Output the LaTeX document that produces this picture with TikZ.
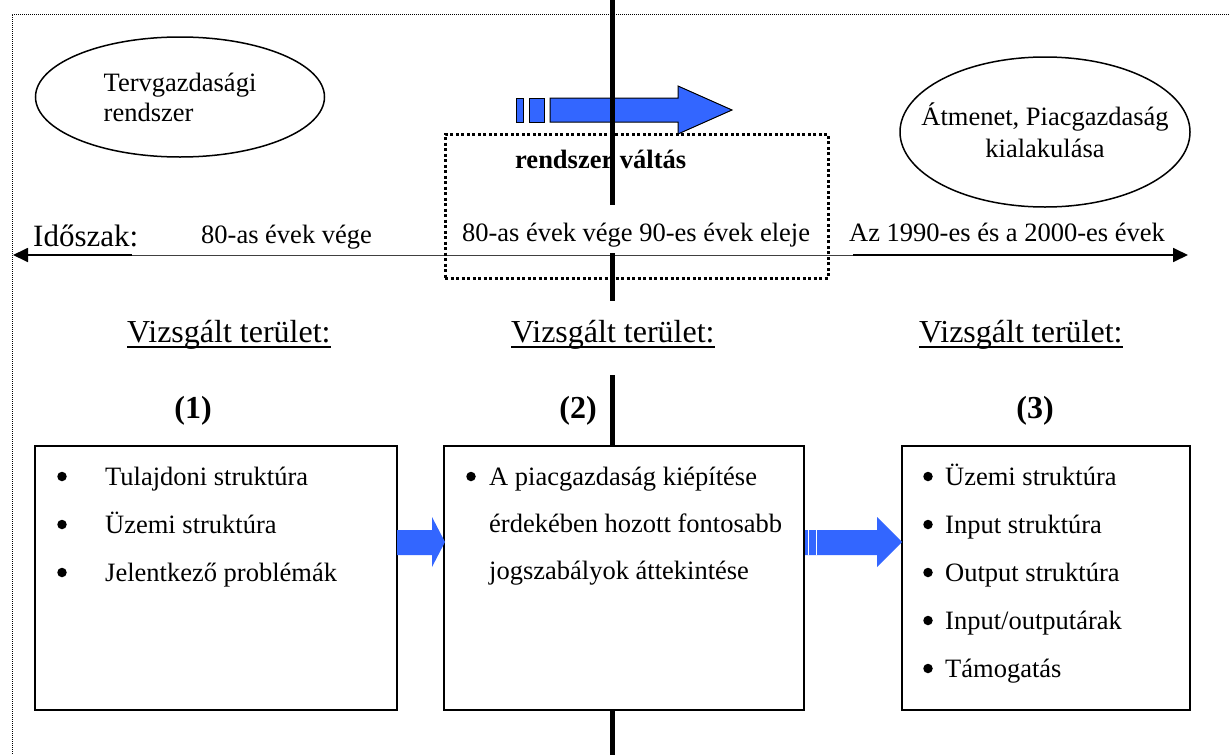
\documentclass[tikz,border=0pt]{standalone}
\usepackage{fontspec}
\setmainfont{Liberation Serif}
\usetikzlibrary{shapes.geometric,arrows.meta}
\definecolor{arrblue}{RGB}{51,102,255}
\tikzset{
  txt/.style={font=\fontsize{26.5}{30}\selectfont, inner sep=0pt},
  txtb/.style={font=\fontsize{26.5}{30}\selectfont\bfseries, inner sep=0pt},
  big/.style={font=\fontsize{32}{36}\selectfont, inner sep=0pt},
  bigb/.style={font=\fontsize{32}{36}\selectfont\bfseries, inner sep=0pt},
  oval/.style={ellipse, draw, line width=1.5pt, inner sep=0pt},
  infobox/.style={draw, line width=1.8pt, fill=white, minimum height=264pt, inner sep=0pt},
  blockarrow/.style={fill=arrblue},
  outlinedblue/.style={draw=black, fill=arrblue, line width=1pt},
  vizs/.style={big, fill=white, text height=41pt, text depth=33pt, anchor=base west},
  uline/.style={line width=1.5pt},
  tip/.style={line width=1.8pt, -{Triangle[length=15pt,width=14pt]}},
  bul/.style={circle, fill=black, inner sep=0pt, minimum size=9.5pt},
  item/.style={txt, anchor=base west},
}
\begin{document}
\begin{tikzpicture}[x=1pt,y=-1pt]
\useasboundingbox[fill=white] (0,0) rectangle (1229,755);
% outer dotted frame
\draw[line width=1pt, dash pattern=on 1pt off 1pt] (1229,14) -- (12,14) -- (12,755);

% ellipses
\node[oval, minimum width=289pt, minimum height=120pt] (e1) at (180,97) {};
\node[txt, align=left] (e1t) at (e1.center) {Tervgazdasági\\rendszer};
\node[oval, minimum width=290pt, minimum height=150pt] (e2) at (1045,132) {};
\node[txt, align=center] (e2t) at ([yshift=2pt]e2.center) {Átmenet, Piacgazdaság\\[2pt]kialakulása};

% top blue arrow
\draw[outlinedblue] (516,98) rectangle (523,122);
\draw[outlinedblue] (529,98) rectangle (544,122);
\draw[outlinedblue] (550,98) -- (678,98) -- (678,86) -- (732,110) -- (678,134) -- (678,122) -- (550,122) -- cycle;

\node[txtb, anchor=base west] (rv) at (515,168) {rendszer váltás};

% timeline
\coordinate (tl) at (13,255);
\coordinate (tlm) at (132,255);
\coordinate (trm) at (853,255);
\coordinate (tr) at (1188,255);
\draw[line width=0.8pt, black!75] (tlm) -- (trm);
\draw[tip] (tlm) -- (tl);
\draw[tip] (trm) -- (tr);

\node[font=\fontsize{31}{34}\selectfont, inner sep=0pt, anchor=base west] (ido) at (33,246) {Időszak:};
\node[txt, anchor=base west] (per1) at (201,243) {80-as évek vége};
\node[txt, anchor=base west] (per3) at (849,241) {Az 1990-es és a 2000-es évek};

% thick vertical divider
\coordinate (vt) at (612,0);
\coordinate (vb) at (612,755);
\draw[line width=5pt] (vt) -- (vb);

\node[txt, fill=white, inner xsep=2pt, text height=36pt, text depth=12pt, anchor=base] (per2) at (636,241) {80-as évek vége 90-es évek eleje};

% dotted frame
\node[draw, line width=3pt, dash pattern=on 3pt off 2.5pt, minimum width=383pt, minimum height=144pt, inner sep=0pt] (frame) at (636.5,206) {};

% Vizsgált terület
\node[vizs] (v1) at (127,342) {Vizsgált terület:};
\node[vizs] (v2) at (511,342) {Vizsgált terület:};
\node[vizs] (v3) at (919,342) {Vizsgált terület:};
\foreach \v in {v1,v2,v3}{
  \draw[uline] ([yshift=-5pt]\v.base west) -- ([yshift=-5pt]\v.base east);
}

\node[bigb, anchor=base] (n1) at (193,418) {(1)};
\node[bigb, anchor=base] (n2) at (578,418) {(2)};
\node[bigb, anchor=base] (n3) at (1035,418) {(3)};

% boxes
\node[infobox, minimum width=362pt] (b1) at (216,578) {};
\node[infobox, minimum width=360pt] (b2) at (624,578) {};
\node[infobox, minimum width=288pt] (b3) at (1046,578) {};

% box 1
\foreach \y/\t [count=\i] in {485/Tulajdoni struktúra, 533/Üzemi struktúra, 581/Jelentkező problémák}{
  \node[bul] (b1p\i) at (62,\y-8.5) {};
  \node[item] (b1t\i) at (105,\y) {\t};
}

% box 2
\node[bul] (b2p1) at (471,476.5) {};
\node[item] (b2t1) at (489,485) {A piacgazdaság kiépítése};
\node[item] (b2t2) at (489,532) {érdekében hozott fontosabb};
\node[item] (b2t3) at (489,579) {jogszabályok áttekintése};

% box 3
\foreach \y/\t [count=\i] in {485/Üzemi struktúra, 533/Input struktúra, 581/Output struktúra, 629/Input\slash outputárak, 677/Támogatás}{
  \node[bul] (b3p\i) at (928,\y-8.5) {};
  \node[item] (b3t\i) at (945,\y) {\t};
}

% block arrows between boxes
\fill[blockarrow] (397,530) -- (432,530) -- (432,517) -- (445,542) -- (432,567) -- (432,555) -- (397,555) -- cycle;
\fill[blockarrow] (805,530) -- (877,530) -- (877,517) -- (902,542) -- (877,567) -- (877,555) -- (805,555) -- cycle;
\draw[white, line width=1pt] (808.5,530) -- (808.5,555);
\draw[white, line width=1pt] (816.5,530) -- (816.5,555);
\end{tikzpicture}
\end{document}
